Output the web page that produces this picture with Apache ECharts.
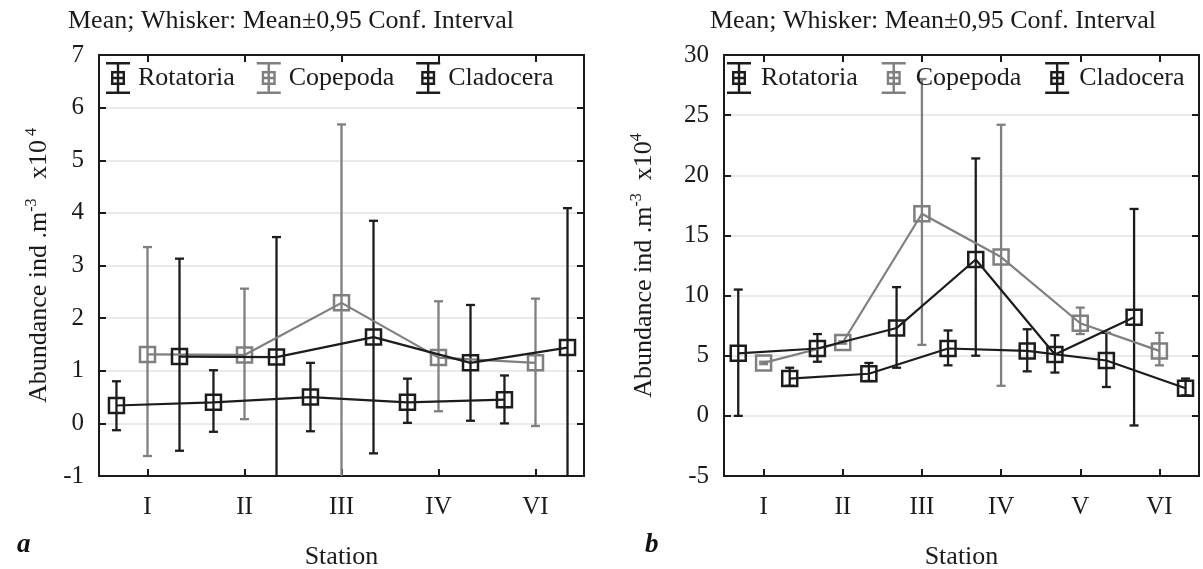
<!DOCTYPE html>
<html><head><meta charset="utf-8">
<script src="https://cdn.jsdelivr.net/npm/echarts@6/dist/echarts.min.js"></script>
<style>html,body{margin:0;padding:0;background:#fff}#c{width:1203px;height:569px}</style>
</head><body><div id="c"></div>
<script>
// ---------- DATA ----------
const seriesNames = ['Rotatoria', 'Copepoda', 'Cladocera'];

// Panel a
const stationsA = ['I', 'II', 'III', 'IV', 'VI'];
const rotA_mean = [0.34, 0.40, 0.50, 0.40, 0.45];
const rotA_lo   = [-0.13, -0.16, -0.15, 0.01, 0.00];
const rotA_hi   = [0.80, 1.01, 1.15, 0.85, 0.91];
const copA_mean = [1.31, 1.30, 2.29, 1.25, 1.15];
const copA_lo   = [-0.62, 0.08, -1.5, 0.23, -0.05];
const copA_hi   = [3.35, 2.56, 5.68, 2.32, 2.37];
const claA_mean = [1.27, 1.26, 1.64, 1.15, 1.44];
const claA_lo   = [-0.52, -1.5, -0.57, 0.05, -1.5];
const claA_hi   = [3.13, 3.54, 3.85, 2.25, 4.09];
const yTicksA = { min: -1, max: 7, interval: 1 };

// Panel b
const stationsB = ['I', 'II', 'III', 'IV', 'V', 'VI'];
const rotB_mean = [5.2, 5.6, 7.3, 13.0, 5.1, 8.2];
const rotB_lo   = [0.0, 4.5, 4.0, 5.0, 3.6, -0.8];
const rotB_hi   = [10.5, 6.8, 10.7, 21.4, 6.7, 17.2];
const copB_mean = [4.4, 6.1, 16.8, 13.2, 7.7, 5.4];
const copB_lo   = [4.3, 6.0, 5.9, 2.5, 6.8, 4.2];
const copB_hi   = [4.5, 6.2, 28.0, 24.2, 9.0, 6.9];
const claB_mean = [3.1, 3.5, 5.6, 5.4, 4.6, 2.3];
const claB_lo   = [2.5, 2.9, 4.2, 3.7, 2.4, 1.7];
const claB_hi   = [4.0, 4.4, 7.1, 7.2, 6.9, 3.1];
const yTicksB = { min: -5, max: 30, interval: 5 };

// ---------- STYLE / LAYOUT ----------
const FONT = 'Liberation Serif';
const BLACK = '#1c1c1c', GREY = '#7f7f7f', TXT = '#1a1a1a';
const colors = [BLACK, GREY, BLACK];
const offsets = [-0.32, 0, 0.33];
const ICON = 'path://M0 0H24V2.4H0Z M0 29.6H24V32H0Z M10.8 0H13.2V32H10.8Z M5 9H19V11.4H5Z M5 20.6H19V23H5Z M5 9H7.4V23H5Z M16.6 9H19V23H16.6Z M5 14.8H19V17.2H5Z';

function renderErr(params, api) {
  const x = api.value(0), lo = api.value(1), hi = api.value(2);
  const pHi = api.coord([x, hi]), pLo = api.coord([x, lo]);
  const cap = 4.5;
  const style = { stroke: api.visual('color'), lineWidth: 2.3, fill: null };
  return { type: 'group', children: [
    { type: 'line', shape: { x1: pHi[0], y1: pHi[1], x2: pLo[0], y2: pLo[1] }, style },
    { type: 'line', shape: { x1: pHi[0] - cap, y1: pHi[1], x2: pHi[0] + cap, y2: pHi[1] }, style },
    { type: 'line', shape: { x1: pLo[0] - cap, y1: pLo[1], x2: pLo[0] + cap, y2: pLo[1] }, style }
  ]};
}

const titleStyle = { fontFamily: FONT, fontWeight: 'normal', fontSize: 26, color: TXT };
const option = {
  animation: false,
  backgroundColor: '#fff',
  textStyle: { fontFamily: FONT },
  title: [
    { text: 'Mean; Whisker: Mean\u00b10,95 Conf. Interval', left: 68, top: 8, padding: 0, textStyle: titleStyle },
    { text: 'Mean; Whisker: Mean\u00b10,95 Conf. Interval', left: 710, top: 8, padding: 0, textStyle: titleStyle }
  ],
  grid: [
    { left: 99, top: 55, width: 485, height: 421, outerBoundsMode: 'none', containLabel: false },
    { left: 724, top: 55, width: 475, height: 421, outerBoundsMode: 'none', containLabel: false }
  ],
  legend: [],
  xAxis: [],
  yAxis: [],
  series: [],
  graphic: [
    { type: 'text', left: 17, top: 532, style: { text: 'a', font: 'italic bold 27px "Liberation Serif"', fill: '#111' } },
    { type: 'text', left: 645, top: 532, style: { text: 'b', font: 'italic bold 27px "Liberation Serif"', fill: '#111' } }
  ]
};

function addPanel(gi, stations, means, los, his, yt, yName, yGap) {
  const n = stations.length;
  const xb = option.xAxis.length;
  const yb = option.yAxis.length;
  const axisLine = { show: true, onZero: false, lineStyle: { color: '#1a1a1a', width: 2 } };
  const tick = { show: true, inside: true, length: 7, lineStyle: { color: '#1a1a1a', width: 2 } };
  // bottom category axis (labels + ticks)
  option.xAxis.push({
    gridIndex: gi, type: 'category', position: 'bottom', data: stations, boundaryGap: true,
    axisLine, axisTick: Object.assign({ alignWithLabel: true }, tick),
    axisLabel: { fontFamily: FONT, fontSize: 25, color: TXT, margin: 19 },
    name: 'Station', nameLocation: 'middle', nameGap: 68,
    nameTextStyle: { fontFamily: FONT, fontSize: 26, color: TXT },
    splitLine: { show: false }
  });
  // top category axis (ticks only)
  option.xAxis.push({
    gridIndex: gi, type: 'category', position: 'top', data: stations, boundaryGap: true,
    axisLine, axisTick: Object.assign({ alignWithLabel: true }, tick),
    axisLabel: { show: false }, splitLine: { show: false }
  });
  // hidden value axis for data positions
  option.xAxis.push({ gridIndex: gi, type: 'value', min: 0.5, max: n + 0.5, show: false });
  option.yAxis.push({
    gridIndex: gi, type: 'value', position: 'left', min: yt.min, max: yt.max, interval: yt.interval,
    axisLine, axisTick: tick,
    axisLabel: { fontFamily: FONT, fontSize: 25, color: TXT, margin: 15 },
    splitLine: { show: true, lineStyle: { color: '#e3e3e3', width: 1.5 } },
    name: yName, nameLocation: 'middle', nameRotate: 90, nameGap: yGap,
    nameTextStyle: { fontFamily: FONT, fontSize: 26, color: TXT,
      rich: { s: { fontFamily: FONT, fontSize: 16, color: TXT, verticalAlign: 'top', padding: [0, 0, 14, 0] } } }
  });
  option.yAxis.push({
    gridIndex: gi, type: 'value', position: 'right', min: yt.min, max: yt.max, interval: yt.interval,
    axisLine, axisTick: tick,
    axisLabel: { show: false }, splitLine: { show: false }
  });
  for (let k = 0; k < 3; k++) {
    const lineData = means[k].map((v, i) => [i + 1 + offsets[k], v]);
    const errData = means[k].map((v, i) => [i + 1 + offsets[k], los[k][i], his[k][i]]);
    option.series.push({
      type: 'custom', name: seriesNames[k], xAxisIndex: xb + 2, yAxisIndex: yb,
      renderItem: renderErr, data: errData, encode: { x: 0, y: [1, 2] },
      itemStyle: { color: colors[k] }, clip: true, z: 2
    });
    option.series.push({
      type: 'line', name: seriesNames[k], xAxisIndex: xb + 2, yAxisIndex: yb,
      data: lineData, symbol: 'rect', symbolSize: 15, showAllSymbol: true,
      lineStyle: { color: colors[k], width: 2.2 },
      itemStyle: { color: 'rgba(255,255,255,0)', borderColor: colors[k], borderWidth: 2.5 },
      z: k === 1 ? 2 : 3
    });
  }
}

addPanel(0, stationsA, [rotA_mean, copA_mean, claA_mean], [rotA_lo, copA_lo, claA_lo], [rotA_hi, copA_hi, claA_hi],
  yTicksA, 'Abundance ind .m{s|-3}   x10{s| 4}', 45);
addPanel(1, stationsB, [rotB_mean, copB_mean, claB_mean], [rotB_lo, copB_lo, claB_lo], [rotB_hi, copB_hi, claB_hi],
  yTicksB, 'Abundance ind .m{s|-3}  x10{s|4}', 65);

const legendData = seriesNames.map((nm, i) => ({ name: nm, icon: ICON,
  itemStyle: { color: colors[i], borderColor: colors[i], borderWidth: 0 } }));
option.legend.push({ left: 106, top: 62, padding: 0, itemWidth: 24, itemHeight: 32, itemGap: 22, data: legendData,
  textStyle: { fontFamily: FONT, fontSize: 26, color: TXT, padding: [0, 0, 0, 3] }, selectedMode: false });
option.legend.push({ left: 727, top: 62, padding: 0, itemWidth: 24, itemHeight: 32, itemGap: 24, data: legendData,
  textStyle: { fontFamily: FONT, fontSize: 26, color: TXT, padding: [0, 0, 0, 5] }, selectedMode: false });

const chart = echarts.init(document.getElementById('c'), null, { renderer: 'canvas' });
chart.setOption(option);
</script>
</body></html>
